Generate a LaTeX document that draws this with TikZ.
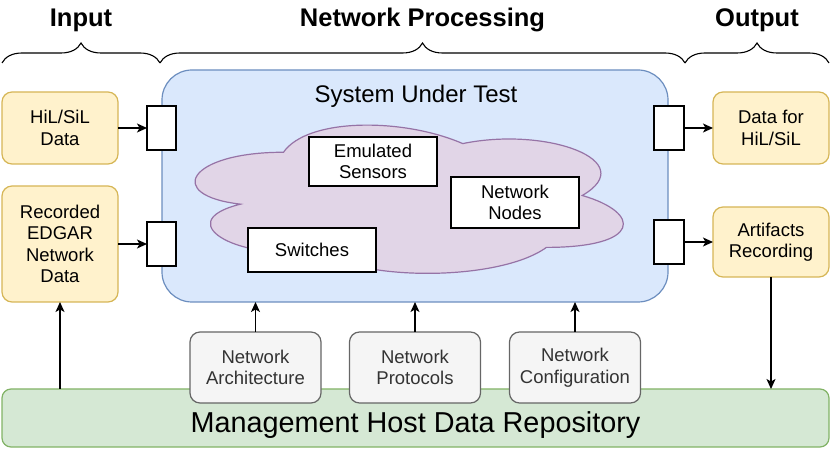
\documentclass[tikz,border=0pt]{standalone}
\usepackage{fontspec}
\setmainfont{Liberation Sans}
\usetikzlibrary{arrows.meta,decorations.pathreplacing}
\definecolor{yfill}{HTML}{FFF2CC}\definecolor{ydraw}{HTML}{D6B656}
\definecolor{bfill}{HTML}{DAE8FC}\definecolor{bdraw}{HTML}{6C8EBF}
\definecolor{pfill}{HTML}{E1D5E7}\definecolor{pdraw}{HTML}{9673A6}
\definecolor{gfill}{HTML}{D5E8D4}\definecolor{gdraw}{HTML}{82B366}
\definecolor{hfill}{HTML}{F5F5F5}\definecolor{hdraw}{HTML}{666666}\definecolor{htext}{HTML}{333333}
\begin{document}
\begin{tikzpicture}[x=1pt,y=-1pt,
  every node/.style={inner sep=0pt, outer sep=0pt},
  txt/.style={align=center, font=\fontsize{18.5}{21.5}\selectfont},
  ybox/.style={txt, draw=ydraw, fill=yfill, line width=1.2pt, rounded corners=10pt},
  pin/.style={draw=black, fill=white, line width=1.2pt, minimum width=29pt, minimum height=44pt},
  wbox/.style={txt, draw=black, fill=white, line width=1.2pt, minimum width=128pt},
  hbox/.style={txt, text=htext, draw=hdraw, fill=hfill, line width=1.2pt, rounded corners=10pt, minimum width=131pt, minimum height=71pt},
  title/.style={font=\fontsize{25.5}{29}\selectfont\bfseries, anchor=base},
  arr/.style={-{Stealth[length=10pt,width=9pt,inset=2.5pt]}, line width=1.2pt},
  brc/.style={decorate, decoration={brace, amplitude=20pt}, line width=1.1pt}
]
\useasboundingbox (0,0) rectangle (831,449);

% titles and braces
\node[title] (tin) at (81,27) {Input};
\node[title] (tnp) at (422.5,27) {Network Processing};
\node[title] (tout) at (757,27) {Output};
\draw[brc] (2,63) -- (160,63);
\draw[brc] (160,63) -- (685,63);
\draw[brc] (685,63) -- (829,63);

% system under test
\node[draw=bdraw, fill=bfill, line width=1.2pt, rounded corners=30pt, minimum width=506pt, minimum height=232pt] (sut) at (415,186) {};
\node[font=\fontsize{24}{28}\selectfont, anchor=base] (sutl) at (416,103) {System Under Test};

% cloud
\draw[draw=pdraw, fill=pfill, line width=1.2pt]
  (283.5,152.25) .. controls (187.9,152.25) and (164,195.5) .. (240.5,204.15)
  .. controls (164,223.2) and (250,264.7) .. (312.2,247.4)
  .. controls (355.2,282) and (498.6,282) .. (546.4,247.4)
  .. controls (642,247.4) and (642,212.8) .. (582.25,195.5)
  .. controls (642,160.9) and (546.4,126.3) .. (462.75,143.6)
  .. controls (403,117.65) and (307.4,117.65) .. (283.5,152.25) -- cycle;

\node[wbox, minimum height=49pt] (emu) at (373,161.5) {Emulated\\Sensors};
\node[wbox, minimum height=51pt] (nn) at (515,202.5) {Network\\Nodes};
\node[wbox, minimum height=44pt] (sw) at (312,250) {Switches};

% ports
\node[pin] (pin1) at (161.5,128) {};
\node[pin] (pin2) at (161.5,244) {};
\node[pin, minimum width=30pt] (pout1) at (669,128) {};
\node[pin, minimum width=30pt] (pout2) at (669,242) {};

% input / output boxes
\node[ybox, minimum width=116pt, minimum height=72pt] (hil) at (60,128) {HiL/SiL\\Data};
\node[ybox, minimum width=116pt, minimum height=116pt] (edgar) at (60,244) {Recorded\\EDGAR\\Network\\Data};
\node[ybox, minimum width=116pt, minimum height=72pt] (dout) at (771,128) {Data for\\HiL/SiL};
\node[ybox, minimum width=116pt, minimum height=70pt] (art) at (771,242) {Artifacts\\Recording};

% management
\node[draw=gdraw, fill=gfill, line width=1.2pt, rounded corners=9pt, minimum width=827pt, minimum height=58pt] (mgmt) at (415.5,418) {};
\node[font=\fontsize{28.8}{32}\selectfont, anchor=base] (mgmtl) at (415.5,432) {Management Host Data Repository};

% config boxes
\node[hbox] (arch) at (255.5,367.5) {Network\\Architecture};
\node[hbox] (prot) at (415,367.5) {Network\\Protocols};
\node[hbox] (conf) at (575,367.5) {Network\\Configuration};

% arrows
\draw[arr] (hil.east) -- (pin1.west);
\draw[arr] (edgar.east) -- (pin2.west);
\draw[arr] (pout1.east) -- (dout.west);
\draw[arr] (pout2.east) -- (art.west);
\draw[arr] (arch.north) -- (arch.north |- sut.south);
\draw[arr] (prot.north) -- (prot.north |- sut.south);
\draw[arr] (conf.north) -- (conf.north |- sut.south);
\draw[arr] (mgmt.north -| edgar.south) -- (edgar.south);
\draw[arr] (art.south) -- (art.south |- mgmt.north);
\end{tikzpicture}
\end{document}
